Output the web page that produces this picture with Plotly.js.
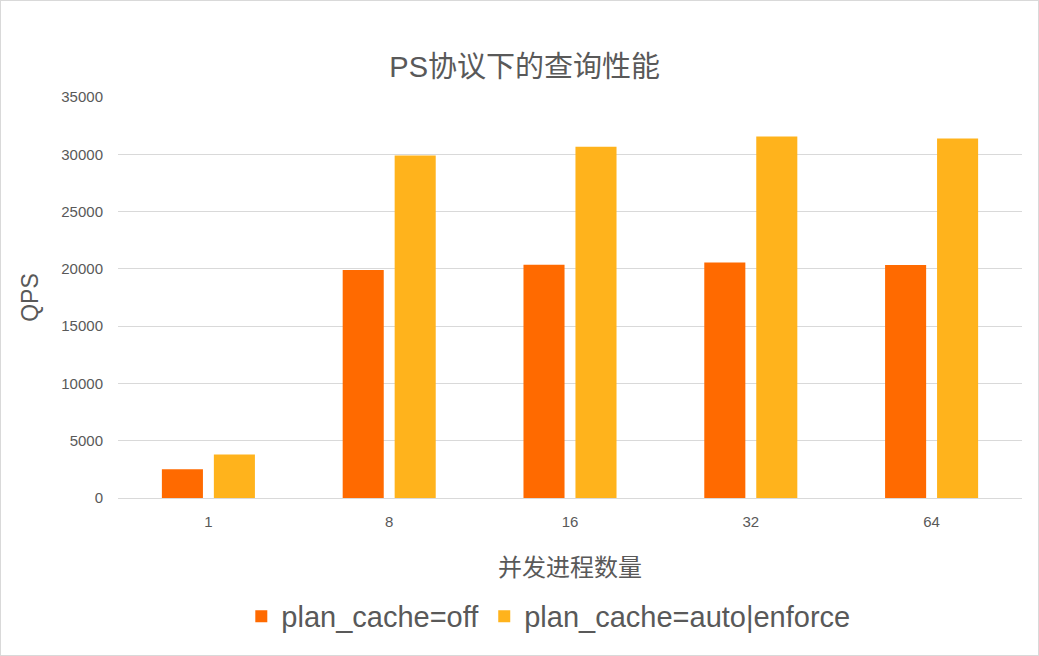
<!DOCTYPE html>
<html>
<head>
<meta charset="utf-8">
<script src="https://cdn.plot.ly/plotly-3.0.1.min.js"></script>
<style>
    html, body { margin: 0; padding: 0; background: #fff; }
    #chart {
        width: 1039px;
        height: 656px;
        box-sizing: border-box;
        border: 1px solid #d9d9d9;
    }
</style>
</head>
<body>
<div id="chart"></div>
<script>
// 并发进程数量
const categories = ["1", "8", "16", "32", "64"];

// QPS values
const qpsPlanCacheOff = [2500, 19900, 20350, 20550, 20330];
const qpsPlanCacheAuto = [3800, 29900, 30650, 31550, 31370];

const seriesNames = ["plan_cache=off", "plan_cache=auto|enforce"];
const seriesColors = ["#ff6a00", "#ffb31c"];

const textColor = "#595959";
const fontFamily = "'Liberation Sans', Arial, 'Noto Sans CJK SC', sans-serif";

const traces = [
    {
        x: categories,
        y: qpsPlanCacheOff,
        name: seriesNames[0],
        type: "bar",
        marker: { color: seriesColors[0] }
    },
    {
        x: categories,
        y: qpsPlanCacheAuto,
        name: seriesNames[1],
        type: "bar",
        marker: { color: seriesColors[1] }
    }
];

const layout = {
    width: 1037,
    height: 654,
    paper_bgcolor: "#ffffff",
    plot_bgcolor: "#ffffff",
    font: { family: fontFamily, color: textColor, size: 14 },

    margin: { t: 96, r: 16, b: 157, l: 117 },

    title: {
        text: "PS协议下的查询性能",
        font: { size: 29, color: textColor },
        x: 0.505,
        xanchor: "center",
        y: 0.9,
        yanchor: "middle"
    },

    barmode: "group",
    bargap: 0.425,
    bargroupgap: 0.21,

    xaxis: {
        type: "category",
        showgrid: false,
        showline: true,
        linecolor: "#d9d9d9",
        linewidth: 1,
        ticks: "",
        ticklabelstandoff: 10,
        tickfont: { size: 15, color: textColor },
        title: {
            text: "并发进程数量",
            font: { size: 24, color: textColor },
            standoff: 30
        }
    },

    yaxis: {
        range: [0, 35000],
        dtick: 5000,
        tickformat: "d",
        showgrid: true,
        gridcolor: "#d9d9d9",
        gridwidth: 1,
        zeroline: false,
        ticks: "",
        ticklabelstandoff: 14,
        tickfont: { size: 15, color: textColor },
        title: {
            text: "QPS",
            font: { size: 23, color: textColor },
            standoff: 16
        }
    },

    legend: {
        orientation: "h",
        x: 0.476,
        xanchor: "center",
        y: -0.295,
        yanchor: "middle",
        font: { size: 29, color: textColor },
        itemwidth: 30,
        traceorder: "normal"
    },

    showlegend: true
};

const config = {
    displayModeBar: false,
    staticPlot: true
};

Plotly.newPlot("chart", traces, layout, config);
</script>
</body>
</html>
